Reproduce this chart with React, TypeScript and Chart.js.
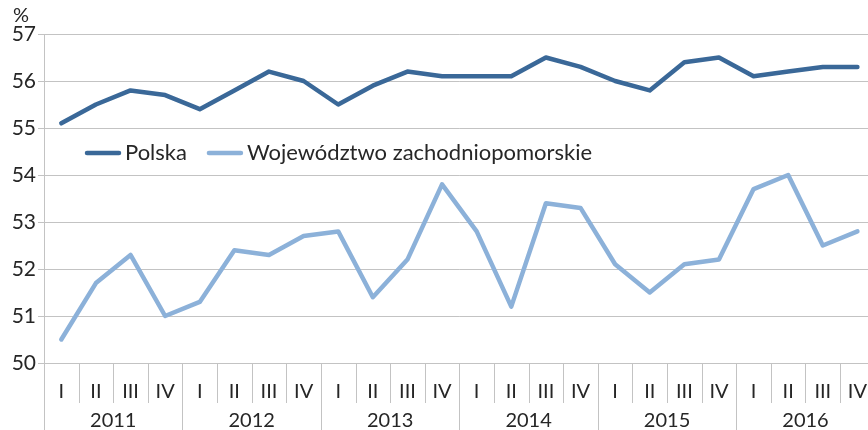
import React, { useEffect, useRef } from "react";
import { Chart, registerables } from "chart.js";
Chart.register(...registerables);

const years = ["2011", "2012", "2013", "2014", "2015", "2016"];
const quarters = ["I", "II", "III", "IV"];
const categories = years.flatMap(() => quarters);

const polska = [
  55.1, 55.5, 55.8, 55.7,
  55.4, 55.8, 56.2, 56.0,
  55.5, 55.9, 56.2, 56.1,
  56.1, 56.1, 56.5, 56.3,
  56.0, 55.8, 56.4, 56.5,
  56.1, 56.2, 56.3, 56.3,
];
const zachodniopomorskie = [
  50.5, 51.7, 52.3, 51.0,
  51.3, 52.4, 52.3, 52.7,
  52.8, 51.4, 52.2, 53.8,
  52.8, 51.2, 53.4, 53.3,
  52.1, 51.5, 52.1, 52.2,
  53.7, 54.0, 52.5, 52.8,
];
const seriesNames = ["Polska", "Województwo zachodniopomorskie"];
const colors = ["#3a6898", "#8cb1d9"];

const FONT = "Lato, 'Open Sans', sans-serif";
const TEXT = "#262626";
const GRID = "#c3c3c3";

const multiAxisPlugin = {
  id: "multiAxis",
  afterDraw(chart: any) {
    const { ctx, chartArea, scales } = chart;
    const x = scales.x;
    const H = chart.height;
    const w = x.getPixelForValue(1) - x.getPixelForValue(0);
    ctx.save();
    ctx.strokeStyle = GRID;
    ctx.lineWidth = 1;
    // vertical axis extension
    ctx.beginPath();
    ctx.moveTo(Math.round(chartArea.left) + 0.5, chartArea.bottom);
    ctx.lineTo(Math.round(chartArea.left) + 0.5, H);
    ctx.stroke();
    for (let i = 1; i <= categories.length; i++) {
      const px = Math.round(x.getPixelForValue(i) - w / 2) + 0.5;
      const isYear = i % quarters.length === 0;
      ctx.beginPath();
      ctx.moveTo(px, chartArea.bottom);
      ctx.lineTo(px, isYear ? H : chartArea.bottom + 40);
      ctx.stroke();
    }
    ctx.fillStyle = TEXT;
    ctx.font = `20px ${FONT}`;
    ctx.textAlign = "center";
    ctx.textBaseline = "middle";
    years.forEach((yr, k) => {
      const c0 = x.getPixelForValue(k * 4) - w / 2;
      const c1 = x.getPixelForValue(k * 4 + 3) + w / 2;
      ctx.fillText(yr, (c0 + c1) / 2, 421);
    });
    // % label
    ctx.textAlign = "left";
    ctx.font = `20px ${FONT}`;
    ctx.fillText("%", 13, 16);
    // legend
    ctx.font = `22px ${FONT}`;
    let lx = 85;
    const ly = 153;
    chart.data.datasets.forEach((ds: any) => {
      ctx.strokeStyle = ds.borderColor;
      ctx.lineWidth = 4.5;
      ctx.lineCap = "round";
      ctx.beginPath();
      ctx.moveTo(lx + 2, ly);
      ctx.lineTo(lx + 34, ly);
      ctx.stroke();
      ctx.fillStyle = TEXT;
      ctx.fillText(ds.label, lx + 40, ly);
      lx += 40 + ctx.measureText(ds.label).width + 20;
    });
    ctx.restore();
  },
};

export default function App() {
  const ref = useRef<HTMLCanvasElement>(null);
  useEffect(() => {
    const canvas = ref.current!;
    const chart = new Chart(canvas, {
      type: "line",
      data: {
        labels: categories,
        datasets: [
          {
            label: seriesNames[0],
            data: polska,
            borderColor: colors[0],
            backgroundColor: colors[0],
            borderWidth: 4.5,
            pointRadius: 0,
            tension: 0,
            borderCapStyle: "round",
            borderJoinStyle: "round",
          },
          {
            label: seriesNames[1],
            data: zachodniopomorskie,
            borderColor: colors[1],
            backgroundColor: colors[1],
            borderWidth: 4.5,
            pointRadius: 0,
            tension: 0,
            borderCapStyle: "round",
            borderJoinStyle: "round",
          },
        ],
      },
      options: {
        responsive: false,
        animation: false,
        layout: { padding: { top: 34, right: 1, left: 0, bottom: 0 } },
        plugins: { legend: { display: false }, tooltip: { enabled: false } },
        scales: {
          x: {
            type: "category",
            offset: true,
            grid: { display: false },
            border: { display: false },
            ticks: {
              color: TEXT,
              font: { family: FONT, size: 20 },
              padding: 9,
              maxRotation: 0,
              autoSkip: false,
            },
            afterFit(scale: any) {
              scale.height = 67;
            },
          },
          y: {
            min: 50,
            max: 57,
            ticks: {
              stepSize: 1,
              color: TEXT,
              font: { family: FONT, size: 21 },
              padding: 2,
            },
            grid: { color: GRID, tickLength: 6, lineWidth: 1 },
            border: { color: GRID },
            afterFit(scale: any) {
              scale.width = 44;
            },
          },
        },
      },
      plugins: [multiAxisPlugin],
    } as any);
    return () => chart.destroy();
  }, []);
  return (
    <div style={{ position: "fixed", left: 0, top: 0, width: 868, height: 430, overflow: "hidden", background: "#fff" }}>
      <canvas ref={ref} width={876} height={430} style={{ display: "block" }} />
    </div>
  );
}
